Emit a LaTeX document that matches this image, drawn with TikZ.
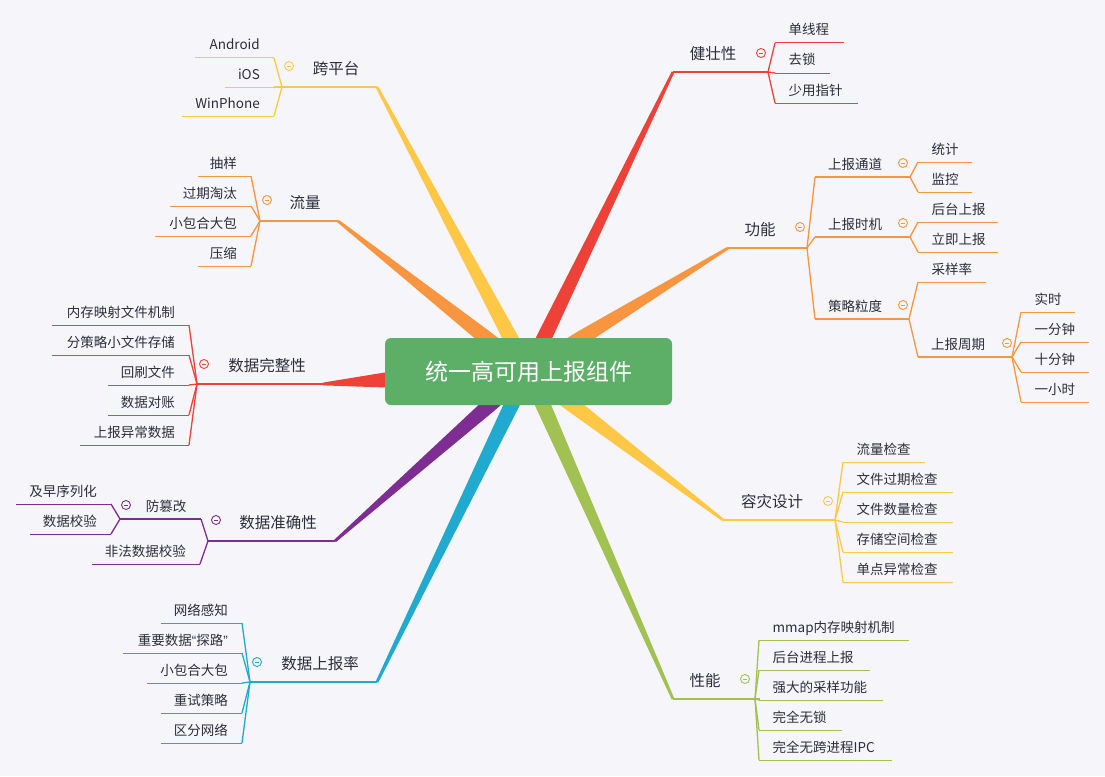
\documentclass[tikz,border=0pt]{standalone}
\usepackage{fontspec}
\setmainfont{Noto Sans CJK SC}
\newfontfamily\latq{Liberation Sans}
\usetikzlibrary{calc}
\definecolor{bgc}{RGB}{246,246,250}
\definecolor{txt}{RGB}{45,45,58}
\definecolor{cred}{RGB}{238,65,55}
\definecolor{corange}{RGB}{247,149,64}
\definecolor{cyellow}{RGB}{255,199,70}
\definecolor{cpurple}{RGB}{126,46,146}
\definecolor{ccyan}{RGB}{32,170,208}
\definecolor{clime}{RGB}{161,194,82}
\definecolor{cgreen}{RGB}{93,174,103}
\tikzset{
 leaf/.style={font=\fontsize{13.5}{16}\selectfont,text=txt,inner sep=0pt},
 topic/.style={font=\fontsize{15.5}{18}\selectfont,text=txt,inner sep=0pt},
 ulthin/.style={line width=1pt},
 ulsub/.style={line width=1.3pt},
 ulmain/.style={line width=2pt},
 conn/.style={line width=1.3pt},
 iconsty/.style={circle,line width=0.9pt,minimum size=9pt,inner sep=0pt,fill=bgc},
}
\newcommand\mmLeafR[6]{%
  \coordinate (#1s) at (#3,#5);
  \coordinate (#1e) at (#4,#5);
  \node[leaf,anchor=base west] (#1) at (#3+13.5,#5-8) {#6};
  \draw[#2,ulthin] (#1s) -- (#1e);}
\newcommand\mmLeafL[6]{%
  \coordinate (#1s) at (#3,#5);
  \coordinate (#1e) at (#4,#5);
  \node[leaf,anchor=base east] (#1) at (#4-14,#5-8) {#6};
  \draw[#2,ulthin] (#1s) -- (#1e);}
\newcommand\mmIcon[3]{%
  \node[iconsty,draw=#1] (#2) at (#3) {};
  \draw[#1,line width=0.9pt] ([xshift=-2.2pt]#2.center) -- ([xshift=2.2pt]#2.center);}
% colour, end, boundary point, centre
\newcommand\mmWedge[4]{%
  \fill[#1] ($(#2)!1.4pt!90:(#4)$) -- ($(#3)!7.5pt!-90:(#2)$) -- ($(#4)!7.5pt!-90:(#2)$)
    -- ($(#4)!7.5pt!90:(#2)$) -- ($(#3)!7.5pt!90:(#2)$) -- ($(#2)!1.4pt!-90:(#4)$) -- cycle;}
\begin{document}
\begin{tikzpicture}[x=1pt,y=-1pt]
\fill[bgc] (0,0) rectangle (1105,776);
\useasboundingbox (0,0) rectangle (1105,776);
\coordinate (C) at (528,371);
% main coordinates
\coordinate (kpJ) at (282,87);  \coordinate (kpE) at (377,87);  \coordinate (kpB) at (510.5,338);
\coordinate (llJ) at (260,221); \coordinate (llE) at (338,221); \coordinate (llB) at (486,338);
\coordinate (wzJ) at (197,384); \coordinate (wzE) at (323,384); \coordinate (wzB) at (385,380);
\coordinate (zqJ) at (208,541); \coordinate (zqE) at (335,541); \coordinate (zqB) at (489.5,405);
\coordinate (sbJ) at (250,682); \coordinate (sbE) at (377,682); \coordinate (sbB) at (511.5,405);
\coordinate (jzJ) at (768,72);  \coordinate (jzE) at (673,72);  \coordinate (jzB) at (544,338);
\coordinate (gnJ) at (807,248); \coordinate (gnE) at (728,248); \coordinate (gnB) at (581.5,338);
\coordinate (zzJ) at (835,520); \coordinate (zzE) at (723,520); \coordinate (zzB) at (572.5,405);
\coordinate (xnJ) at (755,699); \coordinate (xnE) at (673,699); \coordinate (xnB) at (543,405);
\coordinate (xnF) at (760,699);
% wedges
\mmWedge{cyellow}{kpE}{kpB}{C}
\mmWedge{corange}{llE}{llB}{C}
\mmWedge{cred}{wzE}{wzB}{C}
\mmWedge{cpurple}{zqE}{zqB}{C}
\mmWedge{ccyan}{sbE}{sbB}{C}
\mmWedge{cred}{jzE}{jzB}{C}
\mmWedge{corange}{gnE}{gnB}{C}
\mmWedge{cyellow}{zzE}{zzB}{C}
\mmWedge{clime}{xnE}{xnB}{C}
% root
\node[fill=cgreen,rounded corners=6pt,minimum width=287pt,minimum height=67pt,inner sep=0pt,text=white,font=\fontsize{23}{26}\selectfont] (root) at (528.5,371.5) {统一高可用上报组件};

% ---- 跨平台
\draw[cyellow,ulmain] (kpJ) -- (kpE);
\node[topic,anchor=base] (kp) at (336,74.5) {跨平台};
\mmIcon{cyellow}{kpi}{289,66}
\mmLeafL{kpa}{cyellow}{195}{274}{58}{Android}
\mmLeafL{kpb}{cyellow}{225}{274}{87}{iOS}
\mmLeafL{kpc}{cyellow}{182}{274}{116}{WinPhone}
\foreach \n in {kpa,kpb,kpc} \draw[cyellow,conn] (kpJ) -- (\n e);

% ---- 流量
\draw[corange,ulmain] (llJ) -- (llE);
\node[topic,anchor=base] (ll) at (305,208.5) {流量};
\mmIcon{corange}{lli}{267,200}
\mmLeafL{lla}{corange}{198}{251}{176}{抽样}
\mmLeafL{llb}{corange}{170}{251}{206}{过期淘汰}
\mmLeafL{llc}{corange}{155}{251}{236}{小包合大包}
\mmLeafL{lld}{corange}{198}{251}{266}{压缩}
\foreach \n in {lla,llb,llc,lld} \draw[corange,conn] (llJ) -- (\n e);

% ---- 数据完整性
\draw[cred,ulmain] (wzJ) -- (wzE);
\node[topic,anchor=base] (wz) at (267,371.5) {数据完整性};
\mmIcon{cred}{wzi}{204,364}
\mmLeafL{wza}{cred}{52}{189}{325}{内存映射文件机制}
\mmLeafL{wzb}{cred}{52}{189}{355}{分策略小文件存储}
\mmLeafL{wzc}{cred}{108}{189}{385}{回刷文件}
\mmLeafL{wzd}{cred}{108}{189}{415}{数据对账}
\mmLeafL{wze}{cred}{80}{189}{445}{上报异常数据}
\foreach \n in {wza,wzb,wzc,wzd,wze} \draw[cred,conn] (wzJ) -- (\n e);

% ---- 数据准确性
\draw[cpurple,ulmain] (zqJ) -- (zqE);
\node[topic,anchor=base] (zq) at (278,528.5) {数据准确性};
\mmIcon{cpurple}{zqi}{216,520}
\coordinate (fcJ) at (120,519); \coordinate (fcE) at (201,519);
\draw[cpurple,ulsub] (fcJ) -- (fcE);
\node[leaf,anchor=base] (fc) at (166,511) {防篡改};
\mmIcon{cpurple}{fci}{126,505}
\mmLeafL{fca}{cpurple}{16}{111}{504}{及早序列化}
\mmLeafL{fcb}{cpurple}{30}{111}{534}{数据校验}
\foreach \n in {fca,fcb} \draw[cpurple,conn] (fcJ) -- (\n e);
\mmLeafL{zqa}{cpurple}{92}{200}{564}{非法数据校验}
\draw[cpurple,conn] (zqJ) -- (fcE);
\draw[cpurple,conn] (zqJ) -- (zqae);

% ---- 数据上报率
\draw[ccyan,ulmain] (sbJ) -- (sbE);
\node[topic,anchor=base] (sb) at (320,669.5) {数据上报率};
\mmIcon{ccyan}{sbi}{257,662}
\mmLeafL{sba}{ccyan}{161}{242}{623}{网络感知}
\mmLeafL{sbb}{ccyan}{123}{242}{653}{重要数据{\latq “}探路{\latq ”}}
\mmLeafL{sbc}{ccyan}{147}{242}{683}{小包合大包}
\mmLeafL{sbd}{ccyan}{161}{242}{713}{重试策略}
\mmLeafL{sbe}{ccyan}{161}{242}{743}{区分网络}
\foreach \n in {sba,sbb,sbc,sbd,sbe} \draw[ccyan,conn] (sbJ) -- (\n e);

% ---- 健壮性
\draw[cred,ulmain] (jzE) -- (jzJ);
\node[topic,anchor=base] (jz) at (713,59.5) {健壮性};
\mmIcon{cred}{jzi}{761,53}
\mmLeafR{jza}{cred}{775}{844}{43}{单线程}
\mmLeafR{jzb}{cred}{775}{830}{73}{去锁}
\mmLeafR{jzc}{cred}{775}{858}{103}{少用指针}
\foreach \n in {jza,jzb,jzc} \draw[cred,conn] (jzJ) -- (\n s);

% ---- 功能
\draw[corange,ulmain] (gnE) -- (gnJ);
\node[topic,anchor=base] (gn) at (760,235.5) {功能};
\mmIcon{corange}{gni}{800,227}
% 上报通道
\coordinate (tdS) at (815,177); \coordinate (tdJ) at (910,177);
\draw[corange,ulsub] (tdS) -- (tdJ);
\node[leaf,anchor=base] (td) at (855,169) {上报通道};
\mmIcon{corange}{tdi}{903,163}
\mmLeafR{tda}{corange}{918}{972}{162}{统计}
\mmLeafR{tdb}{corange}{918}{972}{192}{监控}
\foreach \n in {tda,tdb} \draw[corange,conn] (tdJ) -- (\n s);
% 上报时机
\coordinate (sjS) at (815,237); \coordinate (sjJ) at (910,237);
\draw[corange,ulsub] (sjS) -- (sjJ);
\node[leaf,anchor=base] (sj) at (855,229) {上报时机};
\mmIcon{corange}{sji}{903,223}
\mmLeafR{sja}{corange}{918}{998}{222}{后台上报}
\mmLeafR{sjb}{corange}{918}{998}{252}{立即上报}
\foreach \n in {sja,sjb} \draw[corange,conn] (sjJ) -- (\n s);
% 策略粒度
\coordinate (clS) at (815,319); \coordinate (clJ) at (909,319);
\draw[corange,ulsub] (clS) -- (clJ);
\node[leaf,anchor=base] (cl) at (855,311) {策略粒度};
\mmIcon{corange}{cli}{903,305}
\mmLeafR{cla}{corange}{918}{986}{282}{采样率}
\coordinate (zqS) at (918,357); \coordinate (zqJ2) at (1012,357);
\draw[corange,ulsub] (zqS) -- (zqJ2);
\node[leaf,anchor=base] (zqq) at (958,349) {上报周期};
\mmIcon{corange}{zqqi}{1007,343}
\draw[corange,conn] (clJ) -- (clas);
\draw[corange,conn] (clJ) -- (zqS);
\mmLeafR{zqa2}{corange}{1021}{1075}{312}{实时}
\mmLeafR{zqb2}{corange}{1021}{1089}{342}{一分钟}
\mmLeafR{zqc2}{corange}{1021}{1089}{372}{十分钟}
\mmLeafR{zqd2}{corange}{1021}{1089}{402}{一小时}
\foreach \n in {zqa2,zqb2,zqc2,zqd2} \draw[corange,conn] (zqJ2) -- (\n s);
\foreach \n in {tdS,sjS,clS} \draw[corange,conn] (gnJ) -- (\n);

% ---- 容灾设计
\draw[cyellow,ulmain] (zzE) -- (zzJ);
\node[topic,anchor=base] (zz) at (772,507.5) {容灾设计};
\mmIcon{cyellow}{zzi}{828,501}
\mmLeafR{zza}{cyellow}{843}{925}{462}{流量检查}
\mmLeafR{zzb}{cyellow}{843}{953}{492}{文件过期检查}
\mmLeafR{zzc}{cyellow}{843}{953}{522}{文件数量检查}
\mmLeafR{zzd}{cyellow}{843}{953}{552}{存储空间检查}
\mmLeafR{zze}{cyellow}{843}{953}{582}{单点异常检查}
\foreach \n in {zza,zzb,zzc,zzd,zze} \draw[cyellow,conn] (zzJ) -- (\n s);

% ---- 性能
\draw[clime,ulmain] (xnE) -- (xnF);
\node[topic,anchor=base] (xn) at (705,686.5) {性能};
\mmIcon{clime}{xni}{745,679}
\mmLeafR{xna}{clime}{759}{909}{640}{mmap内存映射机制}
\mmLeafR{xnb}{clime}{759}{870}{670}{后台进程上报}
\mmLeafR{xnc}{clime}{759}{883}{700}{强大的采样功能}
\mmLeafR{xnd}{clime}{759}{842}{730}{完全无锁}
\mmLeafR{xne}{clime}{759}{892}{760}{完全无跨进程IPC}
\foreach \n in {xna,xnb,xnc,xnd,xne} \draw[clime,conn] (xnJ) -- (\n s);
\end{tikzpicture}
\end{document}
